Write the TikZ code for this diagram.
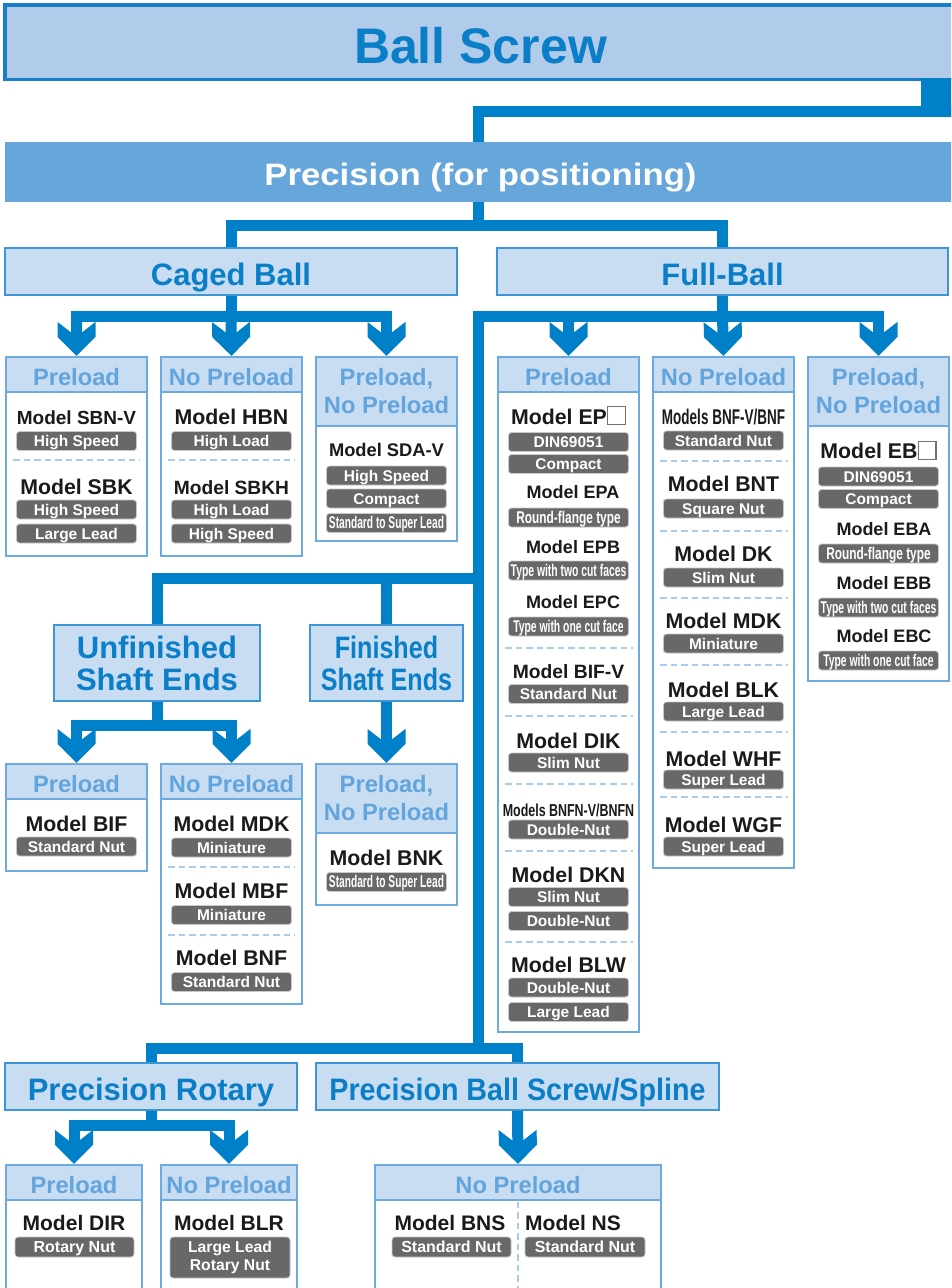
\documentclass[tikz,border=0pt]{standalone}
\usepackage{fontspec}
\setmainfont{Liberation Sans}
\usetikzlibrary{arrows.meta}
\definecolor{linkblue}{RGB}{0,128,200}
\definecolor{titleblue}{RGB}{10,126,198}
\definecolor{bsfill}{RGB}{176,204,234}
\definecolor{bsline}{RGB}{22,129,201}
\definecolor{precfill}{RGB}{102,166,218}
\definecolor{grpfill}{RGB}{200,220,242}
\definecolor{grpline}{RGB}{62,149,214}
\definecolor{leafline}{RGB}{109,170,224}
\definecolor{headblue}{RGB}{98,164,220}
\definecolor{badgegray}{RGB}{104,104,107}
\definecolor{badgeedge}{RGB}{200,200,200}
\definecolor{sepblue}{RGB}{169,203,238}
\definecolor{modelblack}{RGB}{26,26,26}
\definecolor{blankline}{RGB}{112,112,112}

\newcommand{\fsz}[2]{\fontsize{#1}{#2}\selectfont\bfseries}
\newcommand{\narrow}[2]{\scalebox{#1}[1]{#2}}
\newcommand{\blank}{{\setlength{\fboxsep}{0pt}\setlength{\fboxrule}{1.2pt}\fcolorbox{blankline}{white}{\rule{0pt}{16.6pt}\rule{16.6pt}{0pt}}}}

% chevron head of the blue connectors
\pgfdeclarearrow{
  name = Chev,
  setup code = {
    \pgfarrowssettipend{0pt}
    \pgfarrowssetlineend{-21pt}
    \pgfarrowssetbackend{-34pt}
  },
  drawing code = {
    \pgfpathmoveto{\pgfqpoint{0pt}{0pt}}
    \pgfpathlineto{\pgfqpoint{-19pt}{19pt}}
    \pgfpathlineto{\pgfqpoint{-34pt}{19pt}}
    \pgfpathlineto{\pgfqpoint{-23.5pt}{5.5pt}}
    \pgfpathlineto{\pgfqpoint{-23.5pt}{-5.5pt}}
    \pgfpathlineto{\pgfqpoint{-34pt}{-19pt}}
    \pgfpathlineto{\pgfqpoint{-19pt}{-19pt}}
    \pgfpathclose
    \pgfusepathqfill
  },
}

\begin{document}
\begin{tikzpicture}[x=1pt, y=-1pt,
  link/.style={line width=11pt, color=linkblue},
  grp/.style={draw=grpline, line width=2pt, fill=grpfill, text=titleblue, inner sep=0pt, align=center, font=\fsz{31}{32}},
  grpone/.style={grp, text height=27pt, text depth=0pt},
  leaf/.style={draw=leafline, line width=2.2pt, fill=white, inner sep=0pt, minimum width=141pt},
  leafhead/.style={draw=leafline, line width=2.2pt, fill=grpfill, text=headblue, inner sep=0pt, minimum width=141pt, align=center, anchor=north, font=\fsz{23.7}{28}},
  headone/.style={leafhead, minimum height=35pt, text height=21pt, text depth=0pt},
  headtwo/.style={leafhead, minimum height=69pt},
  model/.style={text=modelblack, inner sep=0pt, text height=15pt, text depth=0pt, font=\fsz{21.3}{25}},
  badgebase/.style={fill=badgegray, draw=badgeedge, line width=0.8pt, rounded corners=3pt, text=white, inner sep=0pt, minimum width=120pt, minimum height=19pt, align=center, font=\fsz{15.5}{18}},
  badge/.style={badgebase, text height=11.1pt, text depth=0pt},
  sep/.style={draw=sepblue, line width=1.8pt, dash pattern=on 6.5pt off 4pt},
]
  \useasboundingbox (0,0) rectangle (951,1288);
  \clip (0,0) rectangle (951,1288);

  % Top
  \node[draw=bsline, line width=3.5pt, fill=bsfill, minimum width=951pt, minimum height=74.5pt, inner sep=0pt, text=titleblue, font=\fsz{50}{56}, text height=41.8pt, text depth=0pt] (bs) at (480.5,42.25) {Ball Screw};
  \node[fill=precfill, minimum width=951pt, minimum height=60pt, inner sep=0pt, text=white, font=\fsz{31}{36}, text height=26pt, text depth=0pt] (prec) at (480.5,172) {\narrow{1.12}{Precision (for positioning)}};

  % Groups
  \node[grpone, minimum width=452pt, minimum height=47pt] (caged) at (231,271.5) {Caged Ball};
  \node[grpone, minimum width=451pt, minimum height=47pt] (full) at (722.5,271.5) {Full-Ball};
  \node[grp, minimum width=206pt, minimum height=76pt] (unf) at (157,663) {Unfinished\\Shaft Ends};
  \node[grp, minimum width=153pt, minimum height=76pt] (fin) at (386.5,663) {\narrow{0.81}{Finished}\\\narrow{0.81}{Shaft Ends}};
  \node[grpone, minimum width=292pt, minimum height=47pt] (rot) at (151,1086.5) {Precision Rotary};
  \node[grpone, minimum width=403pt, minimum height=47pt] (spl) at (517.5,1086.5) {\narrow{0.925}{Precision Ball Screw/Spline}};

  % Caged Ball, Preload
  \node[leaf, minimum height=199pt] (cp) at (76.5,456.5) {};
  \node[headone] (cpH) at (cp.north) {Preload};
  \node[model, font=\fsz{19}{22}] (cpM1) at (76.5,417) {Model SBN-V};
  \node[badge] (cpB1) at (76.5,441) {High Speed};
  \draw[sep] (13,460) -- (140,460);
  \node[model] (cpM2) at (76.5,487) {Model SBK};
  \node[badge] (cpB2) at (76.5,509.5) {High Speed};
  \node[badge] (cpB3) at (76.5,533.5) {Large Lead};

  % Caged Ball, No Preload
  \node[leaf, minimum height=199pt] (cn) at (231.5,456.5) {};
  \node[headone] (cnH) at (cn.north) {No Preload};
  \node[model] (cnM1) at (231.5,417) {Model HBN};
  \node[badge] (cnB1) at (231.5,441) {High Load};
  \draw[sep] (168,460) -- (295,460);
  \node[model, font=\fsz{19.2}{22}] (cnM2) at (231.5,487) {Model SBKH};
  \node[badge] (cnB2) at (231.5,509.5) {High Load};
  \node[badge] (cnB3) at (231.5,533.5) {High Speed};

  % Caged Ball, Preload / No Preload
  \node[leaf, minimum height=184pt] (cb) at (386.5,449) {};
  \node[headtwo] (cbH) at (cb.north) {Preload,\\No Preload};
  \node[model, font=\fsz{18.3}{22}] (cbM1) at (386.5,449) {Model SDA-V};
  \node[badge] (cbB1) at (386.5,475.5) {High Speed};
  \node[badge] (cbB2) at (386.5,498.5) {Compact};
  \node[badge] (cbB3) at (386.5,523) {\narrow{0.6}{\fsz{17}{20}Standard to Super Lead}};

  % Full-Ball, Preload
  \node[leaf, minimum height=675pt] (fp) at (568.5,694.5) {};
  \node[headone] (fpH) at (fp.north) {Preload};
  \node[model] (fpM1) at (568.5,416.5) {Model EP\blank};
  \node[badge] (fpB1) at (568.5,442) {DIN69051};
  \node[badge] (fpB2) at (568.5,464) {Compact};
  \node[model, font=\fsz{18}{22}] (fpM2) at (573,491) {Model EPA};
  \node[badge] (fpB3) at (568.5,517.5) {\narrow{0.7}{\fsz{17}{20}Round-flange type}};
  \node[model, font=\fsz{18}{22}] (fpM3) at (573,546) {Model EPB};
  \node[badge] (fpB4) at (568.5,570.5) {\narrow{0.61}{\fsz{17}{20}Type with two cut faces}};
  \node[model, font=\fsz{18}{22}] (fpM4) at (573,601) {Model EPC};
  \node[badge] (fpB5) at (568.5,626.5) {\narrow{0.61}{\fsz{17}{20}Type with one cut face}};
  \draw[sep] (505,648.3) -- (633,648.3);
  \node[model, font=\fsz{19.3}{22}] (fpM5) at (568.5,671) {Model BIF-V};
  \node[badge] (fpB6) at (568.5,694) {Standard Nut};
  \draw[sep] (505,716) -- (633,716);
  \node[model] (fpM6) at (568.5,740.5) {Model DIK};
  \node[badge] (fpB7) at (568.5,762.5) {Slim Nut};
  \draw[sep] (505,784) -- (633,784);
  \node[model, font=\fsz{17.3}{20}] (fpM7) at (568.5,809) {\narrow{0.72}{Models BNFN-V/BNFN}};
  \node[badge] (fpB8) at (568.5,829.5) {Double-Nut};
  \draw[sep] (505,851) -- (633,851);
  \node[model] (fpM8) at (568.5,875) {Model DKN};
  \node[badge] (fpB9) at (568.5,897) {Slim Nut};
  \node[badge] (fpB10) at (568.5,921) {Double-Nut};
  \draw[sep] (505,942) -- (633,942);
  \node[model] (fpM9) at (568.5,965) {Model BLW};
  \node[badge] (fpB11) at (568.5,987.5) {Double-Nut};
  \node[badge] (fpB12) at (568.5,1012) {Large Lead};

  % Full-Ball, No Preload
  \node[leaf, minimum height=511pt] (fn) at (723.5,612.5) {};
  \node[headone] (fnH) at (fn.north) {No Preload};
  \node[model] (fnM1) at (723.5,417) {\narrow{0.634}{Models BNF-V/BNF}};
  \node[badge] (fnB1) at (723.5,440.5) {Standard Nut};
  \draw[sep] (660,460.7) -- (788,460.7);
  \node[model] (fnM2) at (723.5,484) {Model BNT};
  \node[badge] (fnB2) at (723.5,508.5) {Square Nut};
  \draw[sep] (660,531) -- (788,531);
  \node[model] (fnM3) at (723.5,554) {Model DK};
  \node[badge] (fnB3) at (723.5,577.5) {Slim Nut};
  \draw[sep] (660,598) -- (788,598);
  \node[model] (fnM4) at (723.5,620.5) {Model MDK};
  \node[badge] (fnB4) at (723.5,643.5) {Miniature};
  \draw[sep] (660,665) -- (788,665);
  \node[model] (fnM5) at (723.5,689.5) {Model BLK};
  \node[badge] (fnB5) at (723.5,711.5) {Large Lead};
  \draw[sep] (660,731.7) -- (788,731.7);
  \node[model] (fnM6) at (723.5,759) {Model WHF};
  \node[badge] (fnB6) at (723.5,779.5) {Super Lead};
  \draw[sep] (660,797) -- (788,797);
  \node[model] (fnM7) at (723.5,825) {Model WGF};
  \node[badge] (fnB7) at (723.5,846.5) {Super Lead};

  % Full-Ball, Preload / No Preload
  \node[leaf, minimum height=324pt] (fb) at (878.5,519) {};
  \node[headtwo] (fbH) at (fb.north) {Preload,\\No Preload};
  \node[model] (fbM1) at (878.5,451) {Model EB\blank};
  \node[badge] (fbB1) at (878.5,476.5) {DIN69051};
  \node[badge] (fbB2) at (878.5,499) {Compact};
  \node[model, font=\fsz{18}{22}] (fbM2) at (884,528) {Model EBA};
  \node[badge] (fbB3) at (878.5,553.5) {\narrow{0.7}{\fsz{17}{20}Round-flange type}};
  \node[model, font=\fsz{18}{22}] (fbM3) at (884,582) {Model EBB};
  \node[badge] (fbB4) at (878.5,607.5) {\narrow{0.61}{\fsz{17}{20}Type with two cut faces}};
  \node[model, font=\fsz{18}{22}] (fbM4) at (884,635) {Model EBC};
  \node[badge] (fbB5) at (878.5,660.5) {\narrow{0.61}{\fsz{17}{20}Type with one cut face}};

  % Unfinished Shaft Ends, Preload
  \node[leaf, minimum height=107pt] (up) at (76.5,817.5) {};
  \node[headone] (upH) at (up.north) {Preload};
  \node[model] (upM1) at (76.5,824) {Model BIF};
  \node[badge] (upB1) at (76.5,846.5) {Standard Nut};

  % Unfinished Shaft Ends, No Preload
  \node[leaf, minimum height=240pt] (un) at (231.5,884) {};
  \node[headone] (unH) at (un.north) {No Preload};
  \node[model] (unM1) at (231.5,824) {Model MDK};
  \node[badge] (unB1) at (231.5,847.5) {Miniature};
  \draw[sep] (168,867) -- (295,867);
  \node[model] (unM2) at (231.5,891) {Model MBF};
  \node[badge] (unB2) at (231.5,915) {Miniature};
  \draw[sep] (168,935) -- (295,935);
  \node[model] (unM3) at (231.5,958) {Model BNF};
  \node[badge] (unB3) at (231.5,982) {Standard Nut};

  % Finished Shaft Ends, Preload / No Preload
  \node[leaf, minimum height=141pt] (fbo) at (386.5,834.5) {};
  \node[headtwo] (fboH) at (fbo.north) {Preload,\\No Preload};
  \node[model] (fboM1) at (386.5,858) {Model BNK};
  \node[badge] (fboB1) at (386.5,882) {\narrow{0.6}{\fsz{17}{20}Standard to Super Lead}};

  % Precision Rotary
  \node[leaf, minimum width=136pt, minimum height=135pt] (rp) at (74,1232.5) {};
  \node[headone, minimum width=136pt] (rpH) at (rp.north) {Preload};
  \node[model, font=\fsz{21}{25}] (rpM1) at (74,1222.5) {Model DIR};
  \node[badge, minimum width=119pt, minimum height=20pt, font=\fsz{16}{18.5}] (rpB1) at (74.5,1247) {Rotary Nut};
  \node[leaf, minimum width=136pt, minimum height=135pt] (rn) at (229,1232.5) {};
  \node[headone, minimum width=136pt] (rnH) at (rn.north) {No Preload};
  \node[model, font=\fsz{21}{25}] (rnM1) at (229,1222.5) {Model BLR};
  \node[badgebase, minimum height=41pt, font=\fsz{15.7}{18.5}] (rnB1) at (230,1257.5) {Large Lead\\Rotary Nut};

  % Precision Ball Screw/Spline
  \node[leaf, minimum width=286pt, minimum height=135pt] (sn) at (518,1232.5) {};
  \node[headone, minimum width=286pt] (snH) at (sn.north) {No Preload};
  \draw[sep] (518,1201.5) -- (518,1300);
  \node[model, font=\fsz{21}{25}] (snM1) at (450,1222.5) {Model BNS};
  \node[badge, minimum width=119pt, minimum height=20pt, font=\fsz{16}{18.5}] (snB1) at (451.5,1247) {Standard Nut};
  \node[model, font=\fsz{21}{25}, anchor=west] (snM2) at (525,1222.5) {Model NS};
  \node[badge, minimum height=20pt, font=\fsz{16}{18.5}] (snB2) at (585,1247) {Standard Nut};

  % Connectors
  \coordinate (t0) at (478,111.5);
  \coordinate (j1) at (478,225.5);
  \coordinate (j2) at (231,316.5);
  \coordinate (j3) at (722.5,316.5);
  \coordinate (t2) at (478,578.5);
  \coordinate (t3) at (478,1048.5);
  \coordinate (j4) at (157,725);
  \coordinate (j5) at (151,1125.5);

  \fill[linkblue] (921,78) rectangle (955,117);
  \draw[link] (955,111.5) -- (t0) -- (t0 |- prec.north);
  \draw[link] (prec.south -| j1) -- (j1);
  \draw[link] (caged.north) |- (j1) -| (full.north);

  \draw[link] (caged.south) -- (j2);
  \draw[link, -Chev] (j2) -| (cp.north);
  \draw[link, -Chev] (j2) -- (cn.north);
  \draw[link, -Chev] (j2) -| (cb.north);

  \draw[link] (full.south) -- (j3);
  \draw[link] (j3) -| (t3);
  \draw[link, -Chev] (j3) -| (fp.north);
  \draw[link, -Chev] (j3) -- (fn.north);
  \draw[link, -Chev] (j3) -| (fb.north);

  \draw[link] (t2) -| (unf.north);
  \draw[link] (t2 -| fin.north) -- (fin.north);
  \draw[link] (unf.south) -- (j4);
  \draw[link, -Chev] (j4) -| (up.north);
  \draw[link, -Chev] (j4) -| (un.north);
  \draw[link, -Chev] (fin.south) -- (fbo.north);

  \draw[link] (rot.north) |- (t3) -| (spl.north);
  \draw[link] (rot.south) -- (j5);
  \draw[link, -Chev] (j5) -| (rp.north);
  \draw[link, -Chev] (j5) -| (rn.north);
  \draw[link, -Chev] (spl.south) -- (sn.north);
\end{tikzpicture}
\end{document}
